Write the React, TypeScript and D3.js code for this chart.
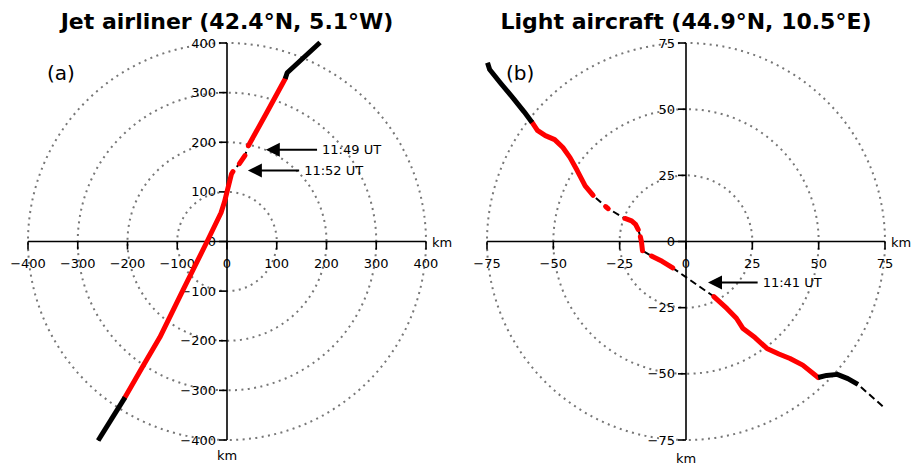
import React from 'react';
import * as d3 from 'd3';

type P = [number, number];

// ---------- Panel (a): jet airliner ----------
const jetTitle = 'Jet airliner (42.4°N, 5.1°W)';
const jetTicks = [-400, -300, -200, -100, 0, 100, 200, 300, 400];
const jetRings = [100, 200, 300, 400];
const jetBlackStart: P[] = [[-259, -401], [-205, -314]];
const jetRed1: P[] = [[-205, -314], [-170, -253], [-135, -193], [-88, -97], [-40, 0], [-12, 58], [-5, 80], [0, 100], [9, 136], [12, 141]];
const jetRed2: P[] = [[25, 157], [36, 173]];
const jetRed3: P[] = [[43, 193], [80, 260], [117, 328]];
const jetBlackEnd: P[] = [[117, 328], [121, 340], [187, 401]];
const jetNotes = [
  { label: '11:49 UT', tip: [78, 185] as P, tail: [181, 185] as P },
  { label: '11:52 UT', tip: [42, 143] as P, tail: [145, 143] as P },
];

// ---------- Panel (b): light aircraft ----------
const lightTitle = 'Light aircraft (44.9°N, 10.5°E)';
const lightTicks = [-75, -50, -25, 0, 25, 50, 75];
const lightRings = [25, 50, 75];
const lightBlackStart: P[] = [[-74.8, 67.5], [-74, 65], [-70, 60], [-65, 54], [-61, 49], [-58, 45]];
const lightRed1: P[] = [[-58, 45], [-56, 42], [-53, 40], [-49.5, 38.5], [-46.4, 35.5], [-43.7, 31.7], [-41, 26.8], [-38, 21], [-35, 17.4]];
const lightRed2: P[] = [[-30.3, 13.2], [-29.3, 12.4]];
const lightRed3: P[] = [[-23, 8.7], [-20.5, 7.8], [-19, 6.5], [-18, 4.5]];
const lightRed4: P[] = [[-17.2, 1.8], [-16.8, 0], [-16.4, -3.5]];
const lightRed5: P[] = [[-13, -5.5], [-9, -7.5], [-5, -10]];
const lightRed6: P[] = [[10.5, -20.8], [15.4, -25.3], [19, -29], [21.5, -32.9], [26, -36.3], [30.5, -40.4], [35, -42.5], [39.2, -44.2], [44, -46.7], [49.8, -51.4]];
const lightBlackEnd: P[] = [[49.8, -51.4], [53, -50.6], [57, -50.2], [61, -51.8], [64.8, -54]];
const lightTail: P[] = [[64.8, -54], [75, -63]];
const lightNotes = [
  { label: '11:41 UT', tip: [8.3, -15.5] as P, tail: [27, -15.5] as P },
];

const FONT = 'DejaVu Sans, sans-serif';
const fmt = (v: number) => (v < 0 ? '\u2212' + Math.abs(v) : String(v));

interface PanelProps {
  title: string;
  tag: string;
  lim: number;
  ticks: number[];
  rings: number[];
  x0: number;
  x1: number;
  dashed: P[][];
  red: P[][];
  black: P[][];
  notes: { label: string; tip: P; tail: P }[];
  xKmY: number;
}

function Panel(p: PanelProps) {
  const x = d3.scaleLinear().domain([-p.lim, p.lim]).range([p.x0, p.x1]);
  const y = d3.scaleLinear().domain([-p.lim, p.lim]).range([440, 43]);
  const line = d3.line<P>().x(d => x(d[0])).y(d => y(d[1]));
  const cx = x(0);
  const cy = y(0);
  const full: P[] = ([] as P[]).concat(...p.dashed);
  return (
    <g>
      <text x={cx} y={29} textAnchor="middle" fontFamily={FONT} fontWeight="bold" fontSize={22}>{p.title}</text>
      {p.rings.map(r => (
        <ellipse key={r} cx={cx} cy={cy} rx={x(r) - cx} ry={cy - y(r)} fill="none" stroke="#777" strokeWidth={2} strokeDasharray="2,4.4" />
      ))}
      {/* axes */}
      <line x1={x(-p.lim)} x2={x(p.lim)} y1={cy} y2={cy} stroke="#000" strokeWidth={1.6} />
      <line x1={cx} x2={cx} y1={y(-p.lim)} y2={y(p.lim)} stroke="#000" strokeWidth={1.6} />
      {p.ticks.map(t => (
        <g key={'x' + t}>
          <line x1={x(t)} x2={x(t)} y1={cy} y2={cy + 8} stroke="#000" strokeWidth={1.6} />
          <text x={x(t)} y={cy + 26} textAnchor="middle" fontFamily={FONT} fontSize={13}>{fmt(t)}</text>
        </g>
      ))}
      {p.ticks.map(t => (
        <g key={'y' + t}>
          <line x1={cx - 8} x2={cx} y1={y(t)} y2={y(t)} stroke="#000" strokeWidth={1.6} />
          <text x={cx - 11} y={y(t)} dy="0.35em" textAnchor="end" fontFamily={FONT} fontSize={13}>{fmt(t)}</text>
        </g>
      ))}
      <text x={x(p.lim) + 6} y={cy + 5} fontFamily={FONT} fontSize={13}>km</text>
      <text x={cx} y={p.xKmY} textAnchor="middle" fontFamily={FONT} fontSize={13}>km</text>
      <text x={cx - 180} y={80} fontFamily={FONT} fontSize={20}>{p.tag}</text>
      {/* track */}
      <path d={line(full) || ''} fill="none" stroke="#000" strokeWidth={2} strokeDasharray="7,4" />
      {p.red.map((s, i) => (
        <path key={'r' + i} d={line(s) || ''} fill="none" stroke="#ff0000" strokeWidth={5} strokeLinecap="round" strokeLinejoin="round" />
      ))}
      {p.black.map((s, i) => (
        <path key={'b' + i} d={line(s) || ''} fill="none" stroke="#000" strokeWidth={5} strokeLinecap="butt" strokeLinejoin="round" />
      ))}
      {p.notes.map(n => {
        const tx = x(n.tip[0]);
        const ty = y(n.tip[1]);
        const ex = x(n.tail[0]);
        return (
          <g key={n.label}>
            <line x1={tx + 12} x2={ex} y1={ty} y2={ty} stroke="#000" strokeWidth={2} />
            <path d={`M${tx},${ty}L${tx + 14},${ty - 7}L${tx + 14},${ty + 7}Z`} fill="#000" />
            <text x={ex + 5} y={ty} dy="0.35em" fontFamily={FONT} fontSize={13}>{n.label}</text>
          </g>
        );
      })}
    </g>
  );
}

export default function App() {
  return (
    <svg width={922} height={467} style={{ position: 'absolute', left: 0, top: 0, background: '#fff' }}>
      <rect width={922} height={467} fill="#fff" />
      <Panel
        title={jetTitle}
        tag="(a)"
        lim={400}
        ticks={jetTicks}
        rings={jetRings}
        x0={28}
        x1={426}
        dashed={[jetBlackStart, jetRed1, jetRed2, jetRed3, jetBlackEnd]}
        red={[jetRed1, jetRed2, jetRed3]}
        black={[jetBlackStart, jetBlackEnd]}
        notes={jetNotes}
        xKmY={460}
      />
      <Panel
        title={lightTitle}
        tag="(b)"
        lim={75}
        ticks={lightTicks}
        rings={lightRings}
        x0={487}
        x1={885}
        dashed={[lightBlackStart, lightRed1, lightRed2, lightRed3, lightRed4, lightRed5, lightRed6, lightBlackEnd, lightTail]}
        red={[lightRed1, lightRed2, lightRed3, lightRed4, lightRed5, lightRed6]}
        black={[lightBlackStart, lightBlackEnd]}
        notes={lightNotes}
        xKmY={463}
      />
    </svg>
  );
}
